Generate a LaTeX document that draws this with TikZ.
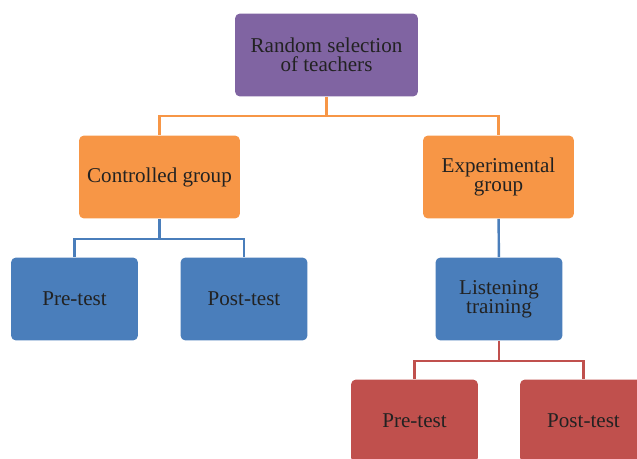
\documentclass[tikz,border=0pt]{standalone}
\usepackage{fontspec}
\setmainfont{Liberation Serif}
\usepackage{xcolor}
\usepackage{tikz}
\usetikzlibrary{positioning}

\definecolor{boxpurple}{HTML}{8064A2}
\definecolor{boxorange}{HTML}{F79646}
\definecolor{boxblue}{HTML}{4A7EBB}
\definecolor{boxred}{HTML}{C0504D}
\definecolor{boxtext}{HTML}{222222}

\begin{document}
\begin{tikzpicture}[
        x=0.02cm, y=-0.02cm,
        base/.style={align=center, rectangle, rounded corners=0.1cm, text=boxtext,
                     font=\fontsize{12}{11}\selectfont, minimum height=1.66cm, inner sep=0pt},
        stage/.style={base, fill=boxpurple, minimum width=3.66cm},
        group/.style={base, fill=boxorange},
        task/.style={base, fill=boxblue, minimum width=2.54cm},
        test/.style={base, fill=boxred, minimum width=2.54cm},
        link/.style={line width=1.4pt}
    ]
        \useasboundingbox (0, 0) rectangle (637, 459);

        \node[stage] (select) at (326.5, 55) {Random selection\\of teachers};

        \node[group, minimum width=3.22cm] (ctrl) at (159.5, 177) {Controlled group};
        \node[group, minimum width=3.02cm] (exp) at (498.5, 177) {Experimental\\group};

        \node[task] (pre) at (74.5, 299) {Pre-test};
        \node[task] (post) at (244, 299) {Post-test};
        \node[task] (listen) at (499, 299) {Listening\\training};

        \node[test] (expre) at (414.5, 421) {Pre-test};
        \node[test] (expost) at (583.5, 421) {Post-test};

        \draw[link, boxorange] (select.south) -- ++(0, 19) -| (ctrl.north);
        \draw[link, boxorange] (select.south) -- ++(0, 19) -| (exp.north);

        \draw[link, boxblue] (ctrl.south) -- ++(0, 20) -| (pre.north);
        \draw[link, boxblue] (ctrl.south) -- ++(0, 20) -| (post.north);
        \draw[link, boxblue] (exp) -- (listen);

        \draw[link, boxred] (listen.south) -- ++(0, 20) -| (expre.north);
        \draw[link, boxred] (listen.south) -- ++(0, 20) -| (expost.north);

    \end{tikzpicture}
\end{document}
